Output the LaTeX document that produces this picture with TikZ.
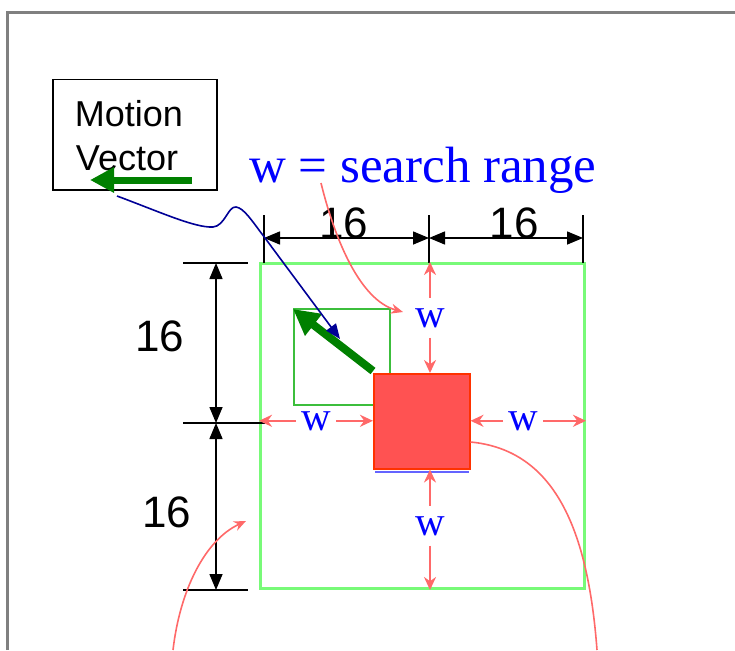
\documentclass[tikz,border=0pt]{standalone}
\usepackage{fontspec}
\setmainfont{Liberation Serif}
\newfontfamily\arialf{Liberation Sans}
\usetikzlibrary{arrows.meta}
\definecolor{framegray}{RGB}{128,128,128}
\definecolor{mvgreen}{RGB}{0,128,0}
\definecolor{navyc}{RGB}{0,0,150}
\definecolor{wblue}{RGB}{0,0,255}
\definecolor{biggreen}{RGB}{120,250,120}
\definecolor{smallgreen}{RGB}{60,190,60}
\definecolor{redfill}{RGB}{255,82,82}
\definecolor{redborder}{RGB}{255,50,0}
\definecolor{pinkred}{RGB}{255,105,105}
\definecolor{underblue}{RGB}{100,100,255}
\tikzset{
  dimline/.style={black, line width=1.5pt},
  dimarrow/.style={black, line width=1.5pt, {Triangle[length=16pt,width=13pt]}-{Triangle[length=16pt,width=13pt]}},
  dimlabel/.style={font=\arialf\fontsize{44}{50}\selectfont, inner sep=0pt},
  wlabel/.style={wblue, font=\fontsize{41}{46}\selectfont, inner xsep=5pt, inner ysep=10pt, anchor=base},
  warrow/.style={pinkred, line width=2.2pt, -{Stealth[length=13pt,width=12pt]}},
  redcurve/.style={pinkred, line width=1.6pt},
  boxstyle/.style={draw, inner sep=0pt, anchor=north west},
}
\begin{document}
\begin{tikzpicture}[x=1pt,y=-1pt]
\useasboundingbox (0,0) rectangle (735,650);
% frame
\draw[framegray, line width=2.5pt] (7.5,650) -- (7.5,12.5) -- (735,12.5);

% Motion Vector box
\node[boxstyle, line width=1.5pt, minimum width=164pt, minimum height=110pt] (mvbox) at (52,79) {};
\node[font=\arialf\fontsize{36}{44}\selectfont, anchor=base, inner sep=0pt] (mot) at (129,126) {Motion};
\node[font=\arialf\fontsize{36}{44}\selectfont, anchor=base, inner sep=0pt] (vec) at (127,170) {Vector};
\coordinate (mvt) at (192,180);
\coordinate (mvh) at (90,180);
\draw[mvgreen, line width=7pt, -{Triangle[length=24pt,width=24pt]}] (mvt) -- (mvh);

% title
\node[wblue, font=\fontsize{51}{60}\selectfont, anchor=base west, inner sep=0pt] (title) at (249,182) {w = search range};

% big search window, small block, red block
\node[boxstyle, draw=biggreen, line width=3pt, minimum width=324pt, minimum height=325pt] (big) at (259,262) {};
\node[boxstyle, draw=smallgreen, line width=2pt, minimum width=96pt, minimum height=96pt] (small) at (293,308) {};
\node[boxstyle, draw=redborder, fill=redfill, line width=1.5pt, minimum width=96pt, minimum height=95pt] (red) at (373,373) {};
\draw[underblue, line width=2pt] ([xshift=2pt,yshift=-2pt]red.south west) -- ([xshift=-2pt,yshift=-2pt]red.south east);

% green motion arrow
\coordinate (gat) at (373,371);
\coordinate (gah) at (293,309);
\draw[mvgreen, line width=8pt, -{Triangle[length=26pt,width=26pt]}] (gat) -- (gah);

% top dimensions
\coordinate (t1a) at (264,215); \coordinate (t1b) at (264,263);
\coordinate (t2a) at (429,215); \coordinate (t2b) at (429,263);
\coordinate (t3a) at (583,215); \coordinate (t3b) at (583,263);
\draw[dimline] (t1a) -- (t1b);
\draw[dimline] (t2a) -- (t2b);
\draw[dimline] (t3a) -- (t3b);
\coordinate (h1) at (264,238); \coordinate (h2) at (429,238); \coordinate (h3) at (583,238);
\draw[dimarrow] (h1) -- (h2);
\draw[dimarrow] (h2) -- (h3);
\node[dimlabel, anchor=base] (d1) at (344,238) {16};
\node[dimlabel, anchor=base] (d2) at (514,238) {16};

% left dimensions
\coordinate (l1a) at (183,263); \coordinate (l1b) at (248,263);
\coordinate (l2a) at (183,423); \coordinate (l2b) at (265,423);
\coordinate (l3a) at (183,590); \coordinate (l3b) at (248,590);
\draw[dimline] (l1a) -- (l1b);
\draw[dimline] (l2a) -- (l2b);
\draw[dimline] (l3a) -- (l3b);
\coordinate (v1) at (216,263); \coordinate (v2) at (216,423); \coordinate (v3) at (216,590);
\draw[dimarrow] (v1) -- (v2);
\draw[dimarrow] (v2) -- (v3);
\node[dimlabel] (d3) at (160,336) {16};
\node[dimlabel] (d4) at (167,512) {16};

% w labels and arrows
\node[wlabel] (wt) at (430,327) {w};
\node[wlabel] (wb) at (430,535) {w};
\node[wlabel] (wl) at (316,430) {w};
\node[wlabel] (wr) at (523,430) {w};
\draw[warrow] (wt.north) -- (wt.north |- big.north);
\draw[warrow] (wt.south) -- (wt.south |- red.north);
\draw[warrow] (wb.north) -- (wb.north |- red.south);
\draw[warrow] (wb.south) -- (wb.south |- big.south);
\draw[warrow] (wl.west) -- (wl.west -| big.west);
\draw[warrow] (wl.east) -- (wl.east -| red.west);
\draw[warrow] (wr.west) -- (wr.west -| red.east);
\draw[warrow] (wr.east) -- (wr.east -| big.east);

% navy pointer from label to motion vector
\coordinate (nvs) at (117,196);
\coordinate (nve) at (340,339);
\draw[navyc, line width=1.6pt, -{Triangle[length=15pt,width=12pt]}]
  (nvs) .. controls (160,212) and (195,228) .. (213,227)
        .. controls (225,226) and (228,206) .. (236,207)
        .. controls (244,208) and (252,221) .. (265,238) -- (nve);

% red curves
\coordinate (rc1s) at (321,183);
\coordinate (rc1e) at (403,312);
\draw[redcurve, -{Stealth[length=12pt,width=10pt]}] (rc1s) .. controls (335,240) and (360,300) .. (rc1e);
\coordinate (rc2e) at (597,650);
\draw[redcurve] (red.east |- 0,442) .. controls (555,450) and (588,530) .. (rc2e);
\coordinate (rc3s) at (173,650);
\coordinate (rc3e) at (246,521);
\draw[redcurve, -{Stealth[length=12pt,width=10pt]}] (rc3s) .. controls (180,590) and (205,540) .. (rc3e);
\end{tikzpicture}
\end{document}
